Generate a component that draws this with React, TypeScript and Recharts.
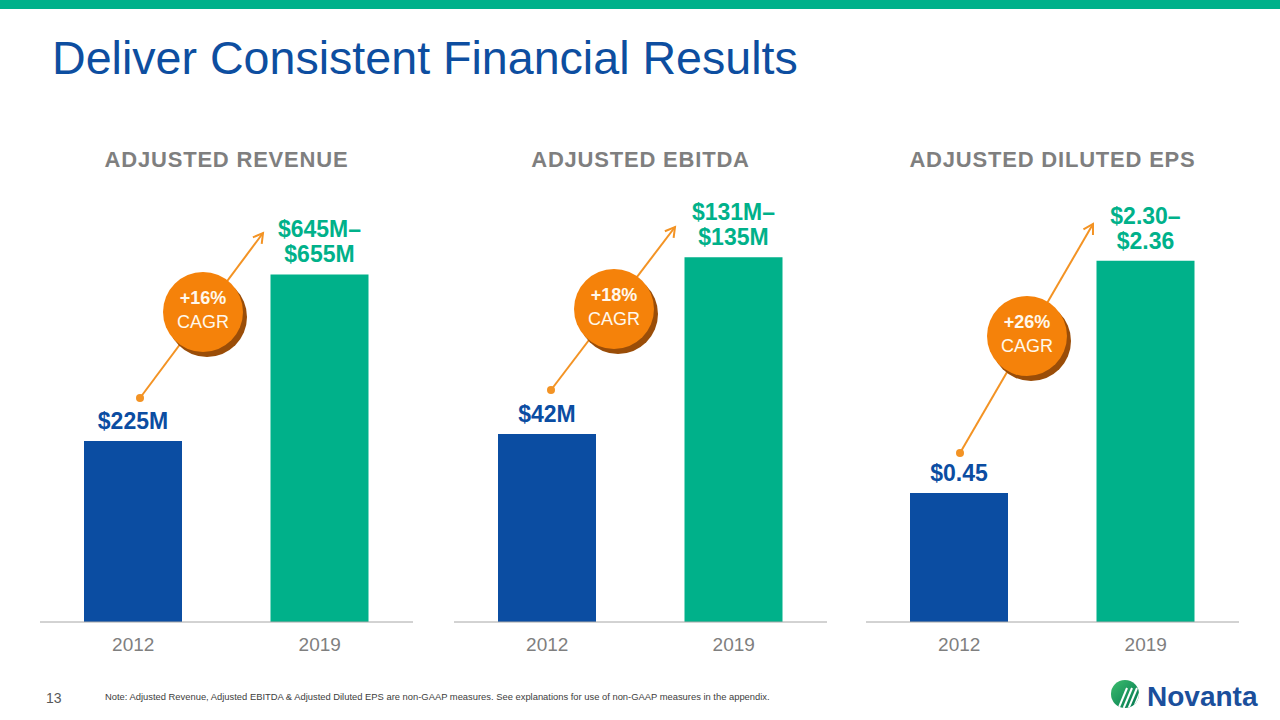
import React from "react"
import { BarChart, Bar, XAxis, YAxis, Cell, LabelList } from "recharts"

// categories
const years = ["2012", "2019"]

// series values (2019 uses the top of the guidance range)
const revenueValues = [225, 655]
const ebitdaValues = [42, 135]
const epsValues = [0.45, 2.36]

// value labels shown above the bars
const revenueLabels = [["$225M"], ["$645M–", "$655M"]]
const ebitdaLabels = [["$42M"], ["$131M–", "$135M"]]
const epsLabels = [["$0.45"], ["$2.30–", "$2.36"]]

// the slide is not drawn to scale, so each panel gets its own value axis
const revenueDomain = [-242.4, 847.2]
const ebitdaDomain = [-56.9, 165.1]
const epsDomain = [-0.611, 2.859]

const panelTitles = ["ADJUSTED REVENUE", "ADJUSTED EBITDA", "ADJUSTED DILUTED EPS"]
const cagrLabels = ["+16%", "+18%", "+26%"]

const BLUE = "#0B4DA2"
const GREEN = "#00B18A"
const ORANGE = "#F5820A"
const barColors = [BLUE, GREEN]
const FONT = "'Liberation Sans', Arial, sans-serif"

const panelLeft = [40, 454, 866]
const PANEL_W = 373

// annotation placement (dot, arrow tip, badge centre)
const arrows = [
  { from: [140, 398], to: [263, 233], badge: [203, 312] },
  { from: [551, 390], to: [675, 227], badge: [614, 309] },
  { from: [960, 453], to: [1093, 224], badge: [1027, 336] },
]

const renderValueLabel = (props: any) => {
  const vb = props.viewBox || props
  const x = vb.x
  const y = vb.y
  const width = vb.width
  const lines: string[] = Array.isArray(props.value) ? props.value : [String(props.value)]
  const idx = props.index != null ? props.index : lines.length > 1 ? 1 : 0
  const cx = x + width / 2
  return (
    <g>
      {lines.map((line, i) => (
        <text
          key={i}
          x={cx}
          y={y - 12 - (lines.length - 1 - i) * 25}
          textAnchor="middle"
          fontFamily={FONT}
          fontWeight="bold"
          fontSize={23}
          fill={barColors[idx]}
        >
          {line}
        </text>
      ))}
    </g>
  )
}

const Panel = ({ values, labels, domain, left }) => {
  const data = years.map((year, i) => ({
    year,
    range: [domain[0], values[i]],
    label: labels[i],
  }))
  return (
    <div style={{ position: "absolute", left, top: 140, width: PANEL_W, height: 540 }}>
      <BarChart
        width={PANEL_W}
        height={540}
        data={data}
        margin={{ top: 60, right: 0, bottom: 18, left: 0 }}
        barSize={98}
      >
        <XAxis
          dataKey="year"
          interval={0}
          height={40}
          tickLine={false}
          tickSize={0}
          tickMargin={16}
          axisLine={{ stroke: "#A6A6A6", strokeWidth: 1 }}
          tick={{ fill: "#7F7F7F", fontSize: 19, fontFamily: FONT }}
        />
        <YAxis hide type="number" domain={domain} allowDataOverflow />
        <Bar dataKey="range" isAnimationActive={false}>
          {data.map((d, i) => (
            <Cell key={d.year} fill={barColors[i]} />
          ))}
          <LabelList dataKey="label" content={renderValueLabel} />
        </Bar>
      </BarChart>
    </div>
  )
}

const Arrow = ({ from, to, badge, text }) => {
  const dx = to[0] - from[0]
  const dy = to[1] - from[1]
  const len = Math.sqrt(dx * dx + dy * dy)
  const ux = dx / len
  const uy = dy / len
  const a = Math.PI / 6
  const head = 11
  const arm = (s: number) => {
    const c = Math.cos(s * a)
    const sn = Math.sin(s * a)
    const rx = ux * c - uy * sn
    const ry = ux * sn + uy * c
    return [to[0] - rx * head, to[1] - ry * head]
  }
  const l = arm(1)
  const r = arm(-1)
  return (
    <g>
      <line x1={from[0]} y1={from[1]} x2={to[0]} y2={to[1]} stroke="#F39324" strokeWidth={2} />
      <polyline
        points={`${l[0]},${l[1]} ${to[0]},${to[1]} ${r[0]},${r[1]}`}
        fill="none"
        stroke="#F39324"
        strokeWidth={2}
      />
      <circle cx={from[0]} cy={from[1]} r={4} fill="#F39324" />
      <circle cx={badge[0] + 4} cy={badge[1] + 5} r={40} fill="#9A4D08" />
      <circle cx={badge[0]} cy={badge[1]} r={40} fill={ORANGE} />
      <text x={badge[0]} y={badge[1] - 8} textAnchor="middle" fontFamily={FONT} fontWeight="bold" fontSize={18} fill="#FFF8EC">
        {text}
      </text>
      <text x={badge[0]} y={badge[1] + 16} textAnchor="middle" fontFamily={FONT} fontSize={18} fill="#FFF8EC">
        CAGR
      </text>
    </g>
  )
}

export default function App() {
  const panels = [
    { values: revenueValues, labels: revenueLabels, domain: revenueDomain },
    { values: ebitdaValues, labels: ebitdaLabels, domain: ebitdaDomain },
    { values: epsValues, labels: epsLabels, domain: epsDomain },
  ]
  return (
    <div
      style={{
        position: "absolute",
        left: 0,
        top: 0,
        width: 1280,
        height: 720,
        overflow: "hidden",
        background: "#fff",
        fontFamily: FONT,
      }}
    >
      <div style={{ position: "absolute", left: 0, top: 0, width: 1280, height: 9, background: GREEN }} />
      {panels.map((p, i) => (
        <Panel key={i} values={p.values} labels={p.labels} domain={p.domain} left={panelLeft[i]} />
      ))}
      <svg width={1280} height={720} style={{ position: "absolute", left: 0, top: 0, pointerEvents: "none" }}>
        <text x={52} y={74} fontFamily={FONT} fontSize={46.6} fill="#0D4EA0">
          Deliver Consistent Financial Results
        </text>
        {panelTitles.map((t, i) => (
          <text
            key={t}
            x={panelLeft[i] + PANEL_W / 2}
            y={167}
            textAnchor="middle"
            fontFamily={FONT}
            fontWeight="bold"
            fontSize={22}
            letterSpacing={0.8}
            fill="#7F7F7F"
          >
            {t}
          </text>
        ))}
        {arrows.map((a, i) => (
          <Arrow key={i} from={a.from} to={a.to} badge={a.badge} text={cagrLabels[i]} />
        ))}
        <text x={46} y={703} fontFamily={FONT} fontSize={14} fill="#595959">
          13
        </text>
        <text x={105} y={700} fontFamily={FONT} fontSize={9.4} fill="#404040">
          Note: Adjusted Revenue, Adjusted EBITDA &amp; Adjusted Diluted EPS are non-GAAP measures. See explanations for use of non-GAAP measures in the appendix.
        </text>
        <defs>
          <linearGradient id="logoGrad" x1="0" y1="0" x2="1" y2="1">
            <stop offset="0%" stopColor="#3DBE6E" />
            <stop offset="100%" stopColor="#00754F" />
          </linearGradient>
          <clipPath id="logoClip">
            <circle cx={1125} cy={694} r={14} />
          </clipPath>
        </defs>
        <circle cx={1125} cy={694} r={14} fill="url(#logoGrad)" />
        <g clipPath="url(#logoClip)" stroke="#fff" strokeWidth={2}>
          <line x1={1117} y1={712} x2={1127} y2={688} />
          <line x1={1122} y1={712} x2={1132} y2={688} />
          <line x1={1127} y1={712} x2={1137} y2={688} />
          <line x1={1132} y1={712} x2={1142} y2={688} />
        </g>
        <text x={1147} y={706} fontFamily={FONT} fontWeight="bold" fontSize={28} fill="#1B4F9C">
          Novanta
        </text>
      </svg>
    </div>
  )
}
